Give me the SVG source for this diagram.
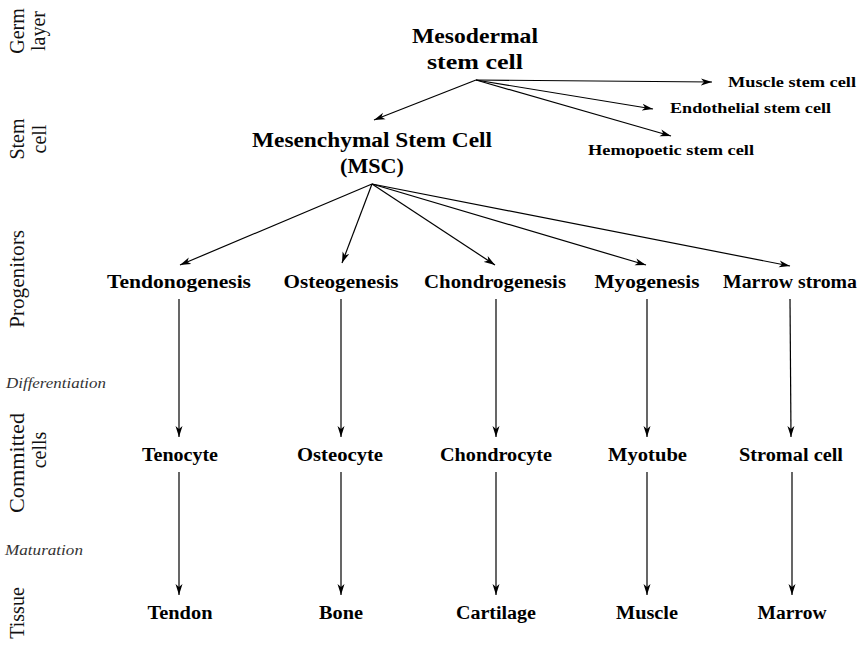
<svg xmlns="http://www.w3.org/2000/svg" width="860" height="645" viewBox="0 0 860 645">
<defs>
<style>
.b{font-family:"Liberation Serif","Times New Roman",serif;font-weight:bold;fill:#000;text-anchor:middle}
.t22{font-size:22px}
.t18{font-size:18px}
.t16{font-size:15.5px}
.row{font-family:"Liberation Serif","Times New Roman",serif;font-size:20px;fill:#111;text-anchor:middle}
.it{font-family:"Liberation Serif","Times New Roman",serif;font-style:italic;font-size:15px;fill:#333}
.c line{stroke:#000;stroke-width:1.2;fill:none;marker-end:url(#ah)}
</style>
<marker id="ah" viewBox="0 0 12 8" refX="11" refY="4" markerWidth="12" markerHeight="8" markerUnits="userSpaceOnUse" orient="auto">
<path d="M0,0.5 L11,4 L0,7.5 L3,4 z" fill="#000"/>
</marker>
</defs>
<rect width="860" height="645" fill="#fff"/>

<g id="row-labels">
<text class="row" transform="translate(0,31) rotate(-90)"><tspan x="0" y="24">Germ</tspan><tspan x="0" y="45">layer</tspan></text>
<text class="row" transform="translate(0,139) rotate(-90)"><tspan x="0" y="24">Stem</tspan><tspan x="0" y="46">cell</tspan></text>
<text class="row" transform="translate(0,279) rotate(-90)"><tspan x="0" y="24" textLength="98" lengthAdjust="spacingAndGlyphs">Progenitors</tspan></text>
<text class="row" transform="translate(0,463) rotate(-90)"><tspan x="0" y="24" textLength="100" lengthAdjust="spacingAndGlyphs">Committed</tspan></text>
<text class="row" transform="translate(0,450) rotate(-90)"><tspan x="0" y="46">cells</tspan></text>
<text class="row" transform="translate(0,613) rotate(-90)"><tspan x="0" y="24">Tissue</tspan></text>
<text class="it" x="6" y="388" textLength="100" lengthAdjust="spacingAndGlyphs">Differentiation</text>
<text class="it" x="5" y="555" textLength="78" lengthAdjust="spacingAndGlyphs">Maturation</text>
</g>

<g id="mesodermal"><text class="b t22"><tspan x="475" y="43" textLength="126" lengthAdjust="spacingAndGlyphs">Mesodermal</tspan><tspan x="475" y="69" textLength="96" lengthAdjust="spacingAndGlyphs">stem cell</tspan></text></g>
<g id="msc"><text class="b t22"><tspan x="372" y="147" textLength="240" lengthAdjust="spacingAndGlyphs">Mesenchymal Stem Cell</tspan><tspan x="372" y="173" textLength="64" lengthAdjust="spacingAndGlyphs">(MSC)</tspan></text></g>
<g id="muscle-stem"><text class="b t16" x="792" y="87" textLength="128" lengthAdjust="spacingAndGlyphs">Muscle stem cell</text></g>
<g id="endothelial-stem"><text class="b t16" x="750.5" y="113" textLength="161" lengthAdjust="spacingAndGlyphs">Endothelial stem cell</text></g>
<g id="hemopoetic-stem"><text class="b t16" x="671" y="155" textLength="166" lengthAdjust="spacingAndGlyphs">Hemopoetic stem cell</text></g>

<g id="tendonogenesis"><text class="b t18" x="179" y="288" textLength="144" lengthAdjust="spacingAndGlyphs">Tendonogenesis</text></g>
<g id="osteogenesis"><text class="b t18" x="341" y="288" textLength="115" lengthAdjust="spacingAndGlyphs">Osteogenesis</text></g>
<g id="chondrogenesis"><text class="b t18" x="495" y="288" textLength="142" lengthAdjust="spacingAndGlyphs">Chondrogenesis</text></g>
<g id="myogenesis"><text class="b t18" x="647" y="288" textLength="105" lengthAdjust="spacingAndGlyphs">Myogenesis</text></g>
<g id="marrow-stroma"><text class="b t18" x="790" y="288" textLength="134" lengthAdjust="spacingAndGlyphs">Marrow stroma</text></g>

<g id="tenocyte"><text class="b t18" x="180" y="461" textLength="76" lengthAdjust="spacingAndGlyphs">Tenocyte</text></g>
<g id="osteocyte"><text class="b t18" x="340" y="461" textLength="86" lengthAdjust="spacingAndGlyphs">Osteocyte</text></g>
<g id="chondrocyte"><text class="b t18" x="496" y="461" textLength="112" lengthAdjust="spacingAndGlyphs">Chondrocyte</text></g>
<g id="myotube"><text class="b t18" x="647.5" y="461" textLength="79" lengthAdjust="spacingAndGlyphs">Myotube</text></g>
<g id="stromal-cell"><text class="b t18" x="791" y="461" textLength="104" lengthAdjust="spacingAndGlyphs">Stromal cell</text></g>

<g id="tendon"><text class="b t18" x="180" y="619" textLength="65" lengthAdjust="spacingAndGlyphs">Tendon</text></g>
<g id="bone"><text class="b t18" x="341" y="619" textLength="44" lengthAdjust="spacingAndGlyphs">Bone</text></g>
<g id="cartilage"><text class="b t18" x="496" y="619" textLength="80" lengthAdjust="spacingAndGlyphs">Cartilage</text></g>
<g id="muscle"><text class="b t18" x="647" y="619" textLength="62" lengthAdjust="spacingAndGlyphs">Muscle</text></g>
<g id="marrow"><text class="b t18" x="792" y="619" textLength="69" lengthAdjust="spacingAndGlyphs">Marrow</text></g>

<g id="connectors" class="c">
<line x1="476" y1="80" x2="374" y2="120"/>
<line x1="476" y1="80" x2="712" y2="82"/>
<line x1="476" y1="80" x2="653" y2="109"/>
<line x1="476" y1="80" x2="671" y2="136"/>
<line x1="372" y1="184" x2="180" y2="265"/>
<line x1="372" y1="184" x2="342" y2="263"/>
<line x1="372" y1="184" x2="495" y2="265"/>
<line x1="372" y1="184" x2="646" y2="265"/>
<line x1="372" y1="184" x2="790" y2="266"/>
<line x1="179" y1="299" x2="179" y2="437"/>
<line x1="341" y1="299" x2="341" y2="437"/>
<line x1="496" y1="299" x2="496" y2="437"/>
<line x1="647" y1="299" x2="647" y2="437"/>
<line x1="790" y1="299" x2="791" y2="437"/>
<line x1="179" y1="472" x2="179" y2="595"/>
<line x1="341" y1="472" x2="341" y2="595"/>
<line x1="496" y1="472" x2="496" y2="595"/>
<line x1="647" y1="472" x2="647" y2="595"/>
<line x1="792" y1="472" x2="792" y2="595"/>
</g>
</svg>
